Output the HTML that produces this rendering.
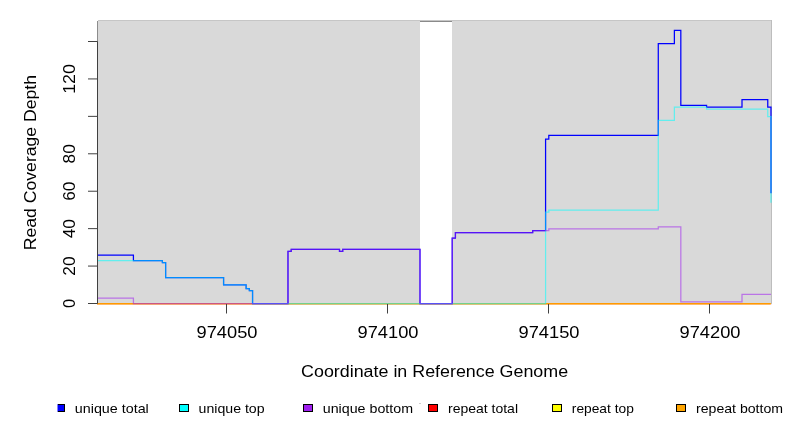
<!DOCTYPE html>
<html><head><meta charset="utf-8"><style>
html,body{margin:0;padding:0;background:#fff;width:792px;height:432px;overflow:hidden}
svg{display:block;will-change:transform}
text{font-family:"Liberation Sans", sans-serif;fill:#000}
</style></head><body>
<svg width="792" height="432" viewBox="0 0 792 432">
<rect x="97" y="20" width="323" height="283.5" fill="#d9d9d9"/>
<rect x="452" y="20" width="320" height="283.5" fill="#d9d9d9"/>
<rect x="98" y="20" width="673" height="1" fill="#c6c6c6"/>
<rect x="420" y="21" width="32" height="1" fill="#8a8a8a"/>
<rect x="771" y="20" width="1" height="284" fill="#bdbdbd"/>
<rect x="97" y="20" width="1" height="1" fill="#ffffff"/>
<rect x="97" y="21" width="1" height="21" fill="#8c8c8c"/>
<rect x="97" y="304" width="675" height="1" fill="#ff2060" fill-opacity="0.09"/>
<path d="M97.0,303.50 L770.68,303.50" stroke="#ff0000" stroke-width="1.25" fill="none"/>
<path d="M97.0,303.50 L770.68,303.50" stroke="#ffff00" stroke-width="1.25" fill="none"/>
<path d="M97.0,303.50 L770.68,303.50" stroke="#ff9a00" stroke-width="1.25" fill="none"/>
<path d="M97.00,255.04 L133.42,255.04 L133.42,260.66 L162.40,260.66 L162.40,262.53 L165.62,262.53 L165.62,277.50 L223.58,277.50 L223.58,284.99 L246.12,284.99 L246.12,288.73 L249.34,288.73 L249.34,290.60 L252.56,290.60 L252.56,303.50 L287.98,303.50 L287.98,251.30 L291.20,251.30 L291.20,249.43 L339.50,249.43 L339.50,251.30 L342.72,251.30 L342.72,249.43 L420.00,249.43 L420.00,303.50 L452.20,303.50 L452.20,238.20 L455.42,238.20 L455.42,232.59 L532.70,232.59 L532.70,230.72 L545.58,230.72 L545.58,139.02 L548.80,139.02 L548.80,135.27 L658.28,135.27 L658.28,43.58 L674.38,43.58 L674.38,30.48 L680.82,30.48 L680.82,105.33 L706.58,105.33 L706.58,107.20 L742.00,107.20 L742.00,99.72 L767.76,99.72 L767.76,107.20 L770.98,107.20 L770.98,193.29" stroke="#0000ff" stroke-width="1.25" fill="none"/>
<path d="M97.00,260.66 L162.40,260.66 L162.40,262.53 L165.62,262.53 L165.62,277.50 L223.58,277.50 L223.58,284.99 L246.12,284.99 L246.12,288.73 L249.34,288.73 L249.34,290.60 L252.56,290.60 L252.56,303.50 L545.58,303.50 L545.58,212.00 L548.80,212.00 L548.80,210.13 L658.28,210.13 L658.28,120.30 L674.38,120.30 L674.38,107.20 L706.58,107.20 L706.58,109.07 L767.76,109.07 L767.76,116.56 L770.98,116.56 L770.98,202.64" stroke="#00ffff" stroke-opacity="0.55" stroke-width="1.25" fill="none"/>
<path d="M97.00,298.09 L133.42,298.09 L133.42,303.50 L287.98,303.50 L287.98,251.30 L291.20,251.30 L291.20,249.43 L339.50,249.43 L339.50,251.30 L342.72,251.30 L342.72,249.43 L420.00,249.43 L420.00,303.50 L452.20,303.50 L452.20,238.20 L455.42,238.20 L455.42,232.59 L532.70,232.59 L532.70,230.72 L548.80,230.72 L548.80,228.84 L658.28,228.84 L658.28,226.97 L680.82,226.97 L680.82,301.83 L742.00,301.83 L742.00,294.34 L770.98,294.34 L770.98,294.34" stroke="#a020f0" stroke-opacity="0.55" stroke-width="1.25" fill="none"/>
<path d="M97.5,41.5 L97.5,303.5" stroke="#404040" stroke-width="1" fill="none"/>
<path d="M88,303.50 L97.5,303.50" stroke="#404040" stroke-width="1" fill="none"/>
<path d="M88,266.07 L97.5,266.07" stroke="#404040" stroke-width="1" fill="none"/>
<path d="M88,228.64 L97.5,228.64" stroke="#404040" stroke-width="1" fill="none"/>
<path d="M88,191.22 L97.5,191.22" stroke="#404040" stroke-width="1" fill="none"/>
<path d="M88,153.79 L97.5,153.79" stroke="#404040" stroke-width="1" fill="none"/>
<path d="M88,116.36 L97.5,116.36" stroke="#404040" stroke-width="1" fill="none"/>
<path d="M88,78.93 L97.5,78.93" stroke="#404040" stroke-width="1" fill="none"/>
<path d="M88,41.50 L97.5,41.50" stroke="#404040" stroke-width="1" fill="none"/>
<path d="M226.50,304 L226.50,313.5" stroke="#404040" stroke-width="1" fill="none"/>
<path d="M387.50,304 L387.50,313.5" stroke="#404040" stroke-width="1" fill="none"/>
<path d="M548.50,304 L548.50,313.5" stroke="#404040" stroke-width="1" fill="none"/>
<path d="M709.50,304 L709.50,313.5" stroke="#404040" stroke-width="1" fill="none"/>
<text x="227.00" y="338" text-anchor="middle" font-size="16.5" textLength="61" lengthAdjust="spacingAndGlyphs">974050</text>
<text x="388.00" y="338" text-anchor="middle" font-size="16.5" textLength="61" lengthAdjust="spacingAndGlyphs">974100</text>
<text x="549.00" y="338" text-anchor="middle" font-size="16.5" textLength="61" lengthAdjust="spacingAndGlyphs">974150</text>
<text x="710.00" y="338" text-anchor="middle" font-size="16.5" textLength="61" lengthAdjust="spacingAndGlyphs">974200</text>
<text x="434.6" y="377" text-anchor="middle" font-size="16" textLength="267" lengthAdjust="spacingAndGlyphs">Coordinate in Reference Genome</text>
<text transform="translate(35.8,162.6) rotate(-90)" x="0" y="0" text-anchor="middle" font-size="16" textLength="175.2" lengthAdjust="spacingAndGlyphs">Read Coverage Depth</text>
<text transform="translate(75.1,303.50) rotate(-90)" x="0" y="0" text-anchor="middle" font-size="16.5" textLength="9.2" lengthAdjust="spacingAndGlyphs">0</text>
<text transform="translate(75.1,266.07) rotate(-90)" x="0" y="0" text-anchor="middle" font-size="16.5" textLength="19.2" lengthAdjust="spacingAndGlyphs">20</text>
<text transform="translate(75.1,228.64) rotate(-90)" x="0" y="0" text-anchor="middle" font-size="16.5" textLength="19.2" lengthAdjust="spacingAndGlyphs">40</text>
<text transform="translate(75.1,191.22) rotate(-90)" x="0" y="0" text-anchor="middle" font-size="16.5" textLength="19.2" lengthAdjust="spacingAndGlyphs">60</text>
<text transform="translate(75.1,153.79) rotate(-90)" x="0" y="0" text-anchor="middle" font-size="16.5" textLength="19.2" lengthAdjust="spacingAndGlyphs">80</text>
<text transform="translate(75.1,78.93) rotate(-90)" x="0" y="0" text-anchor="middle" font-size="16.5" textLength="29.9" lengthAdjust="spacingAndGlyphs">120</text>
<rect x="419" y="403" width="2" height="1" fill="#cfcfcf"/>
<rect x="57" y="404" width="1" height="8" fill="#8080ff"/>
<rect x="58" y="404" width="7" height="8" fill="#000"/>
<rect x="58" y="405" width="6" height="6" fill="#0000ff"/>
<text x="74.8" y="412.8" font-size="13" textLength="74" lengthAdjust="spacingAndGlyphs">unique total</text>
<rect x="179.5" y="404.5" width="9" height="7" fill="#00ffff" stroke="#000" stroke-width="1"/>
<text x="198.6" y="412.8" font-size="13" textLength="66" lengthAdjust="spacingAndGlyphs">unique top</text>
<rect x="303.5" y="404.5" width="9" height="7" fill="#a020f0" stroke="#000" stroke-width="1"/>
<text x="322.8" y="412.8" font-size="13" textLength="90.2" lengthAdjust="spacingAndGlyphs">unique bottom</text>
<rect x="428.5" y="404.5" width="9" height="7" fill="#ff0000" stroke="#000" stroke-width="1"/>
<text x="448" y="412.8" font-size="13" textLength="70" lengthAdjust="spacingAndGlyphs">repeat total</text>
<rect x="552.5" y="404.5" width="9" height="7" fill="#ffff00" stroke="#000" stroke-width="1"/>
<text x="571.8" y="412.8" font-size="13" textLength="62" lengthAdjust="spacingAndGlyphs">repeat top</text>
<rect x="676.5" y="404.5" width="9" height="7" fill="#ffa500" stroke="#000" stroke-width="1"/>
<text x="696" y="412.8" font-size="13" textLength="87" lengthAdjust="spacingAndGlyphs">repeat bottom</text>
</svg>
</body></html>
